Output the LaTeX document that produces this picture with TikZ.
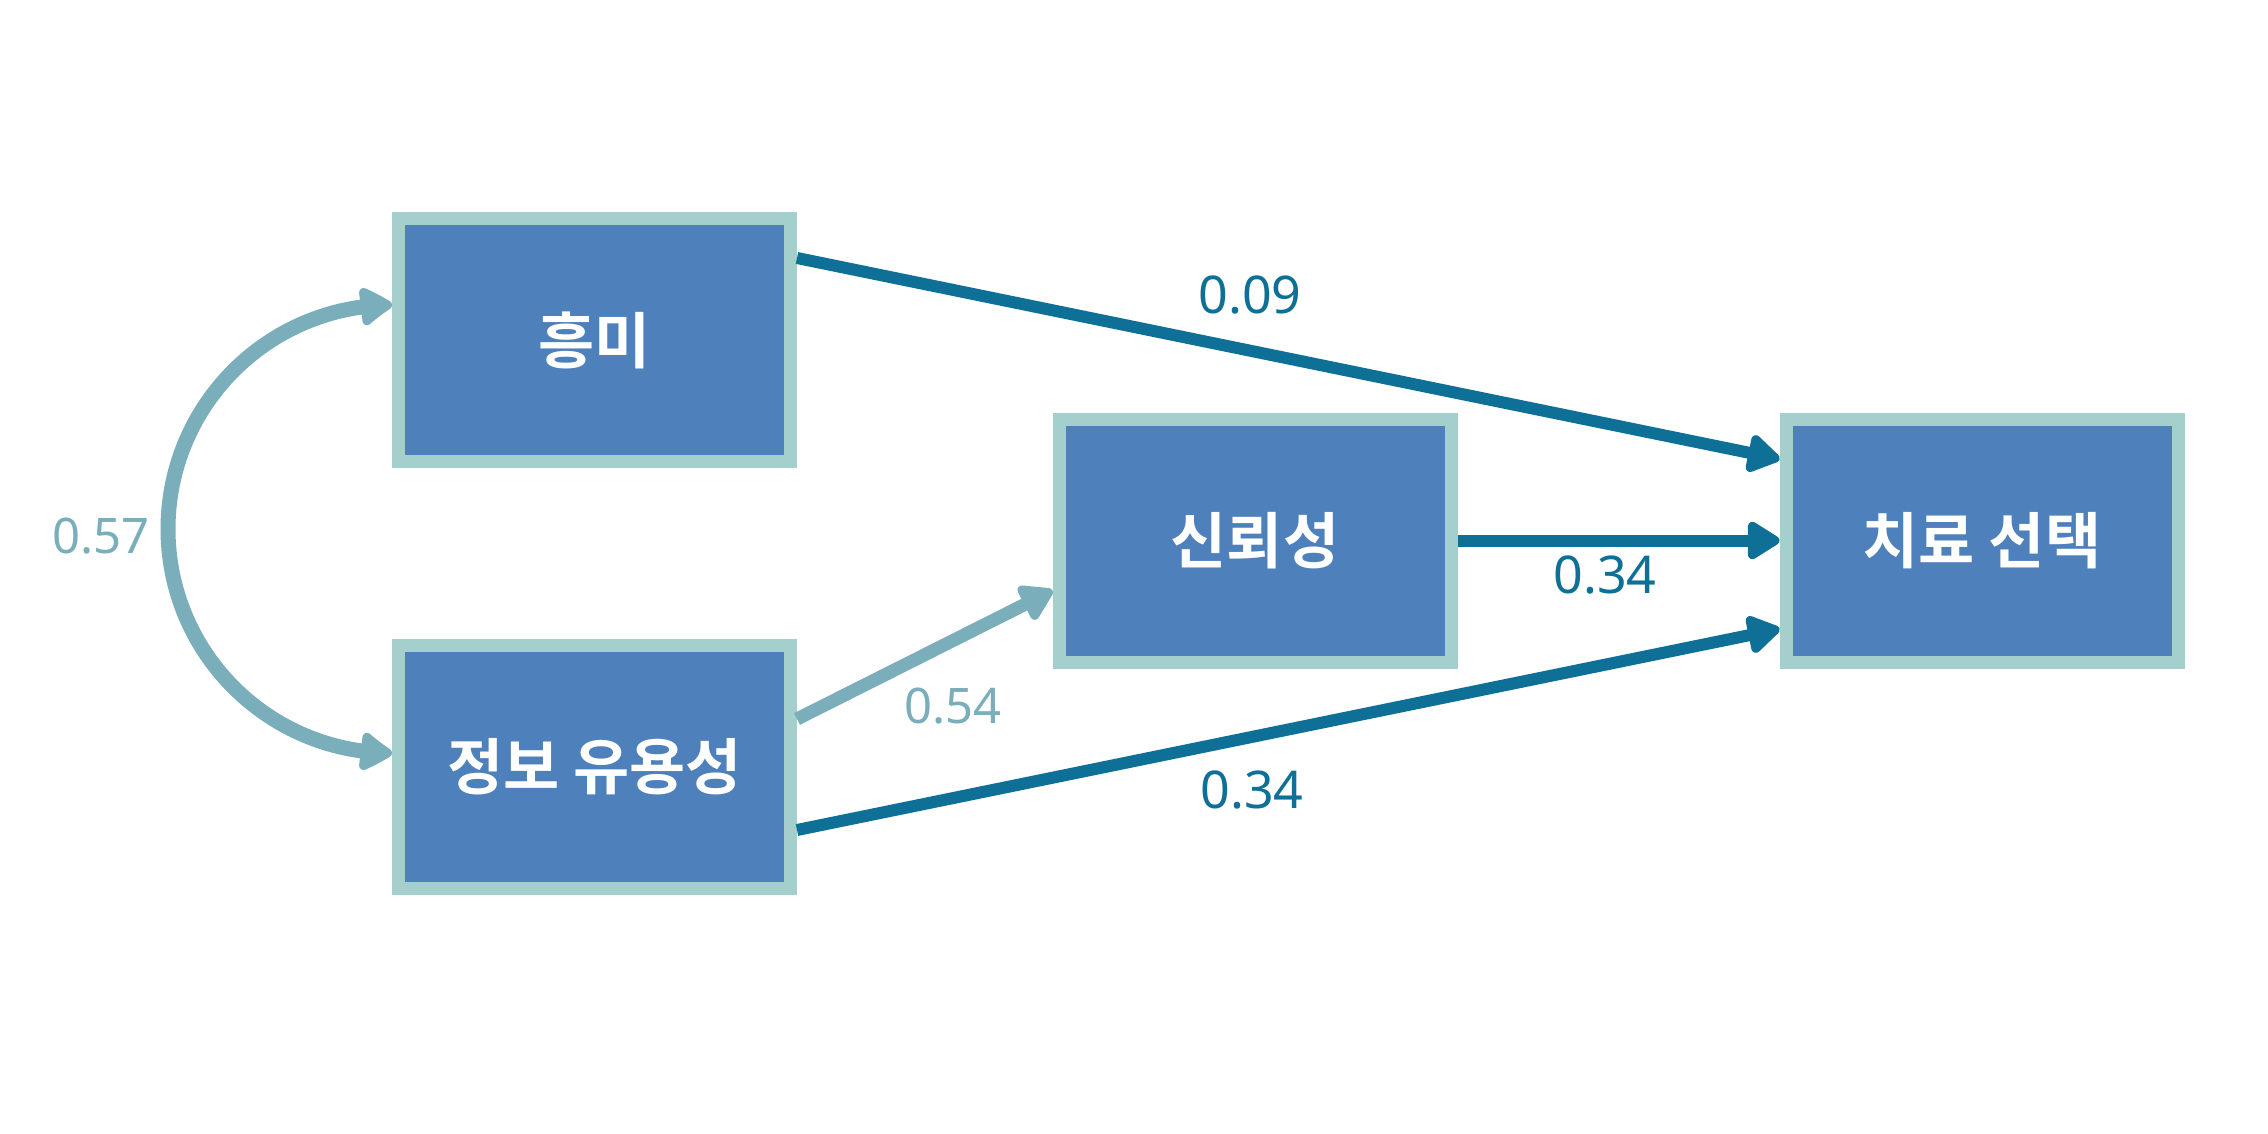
\documentclass[tikz,border=0pt]{standalone}
\usepackage{fontspec}
\setmainfont{Noto Sans}
\newfontfamily\krfont{Noto Sans CJK KR}[BoldFont={* Bold}]
\usetikzlibrary{arrows.meta,bending}
\definecolor{boxfill}{HTML}{4E80BC}
\definecolor{boxline}{HTML}{A4CFCD}
\definecolor{darkarr}{HTML}{0E7096}
\definecolor{lightarr}{HTML}{7AAEBB}
\tikzset{
  varbox/.style={rectangle, draw=boxline, fill=boxfill, line width=13pt,
    minimum width=392pt, minimum height=243pt, inner sep=0pt,
    text=white, font=\krfont\bfseries\fontsize{61}{70}\selectfont},
  headtip/.tip={Triangle[length=36pt,width=42pt,round]},
  darkpath/.style={draw=darkarr, line width=12pt, -headtip},
  lightpath/.style={draw=lightarr, line width=13pt, -headtip},
  darklab/.style={text=darkarr, anchor=base, inner sep=0pt, font=\fontsize{52}{60}\selectfont},
  lightlab/.style={text=lightarr, anchor=base, inner sep=0pt, font=\fontsize{49}{58}\selectfont}
}
\begin{document}
\begin{tikzpicture}[x=1pt,y=-1pt]
\useasboundingbox[fill=white] (0,0) rectangle (2268,1134);
\node[varbox] (h) at (594.5,340) {흥미};
\node[varbox] (p) at (594.5,767) {정보 유용성};
\node[varbox] (t) at (1255,540.5) {신뢰성};
\node[varbox] (c) at (1982,540.5) {치료 선택};

\draw[darkpath] ([yshift=82pt]h.east) -- ([yshift=81.5pt]c.west);
\draw[darkpath] (t.east) -- (c.west);
\draw[darkpath] ([yshift=-63pt]p.east) -- ([yshift=-88.5pt]c.west);
\draw[lightpath] ([yshift=48pt]p.east) -- ([yshift=-50pt]t.west);
\draw[draw=lightarr, line width=15pt,
  {Triangle[length=36pt,width=42pt,round,bend]}-{Triangle[length=36pt,width=42pt,round,bend]}]
  ([yshift=35pt]h.west) arc[start angle=90, end angle=270, radius=224pt];

\node[darklab] (l1) at (1250,313) {0.09};
\node[darklab] (l2) at (1605,593) {0.34};
\node[darklab] (l3) at (1252,808) {0.34};
\node[lightlab] (l4) at (101,553) {0.57};
\node[lightlab] (l5) at (953,723) {0.54};
\end{tikzpicture}
\end{document}
